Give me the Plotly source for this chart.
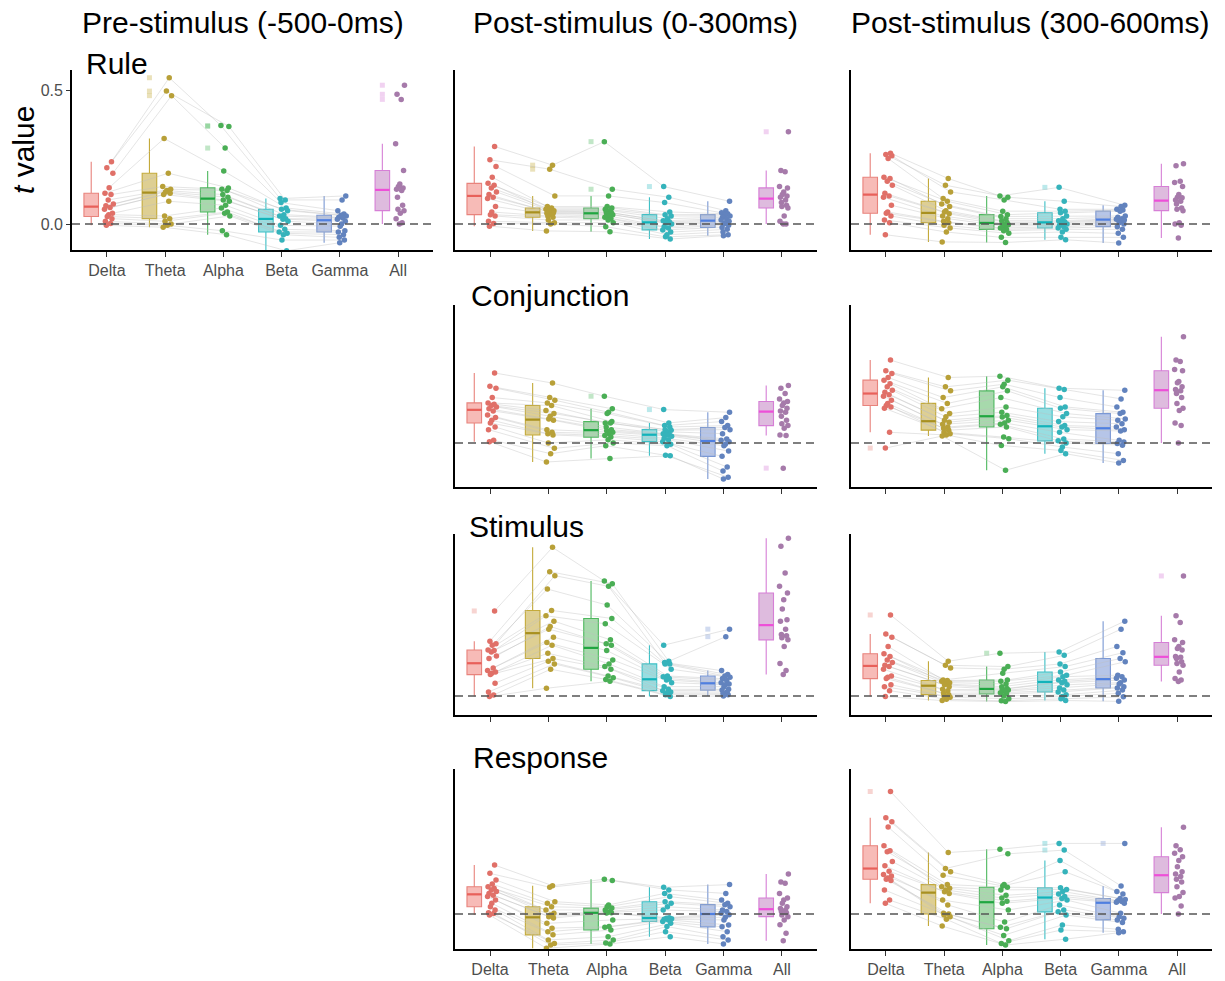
import numpy as np
import plotly.graph_objects as go

CATEGORIES = ["Delta", "Theta", "Alpha", "Beta", "Gamma", "All"]
COLUMN_TITLES = ["Pre-stimulus (-500-0ms)", "Post-stimulus (0-300ms)", "Post-stimulus (300-600ms)"]
ROW_LABELS = ["Rule", "Conjunction", "Stimulus", "Response"]
Y_TICKS = [0.0, 0.5]
Y_TICK_TEXT = ["0.0", "0.5"]

# values per subject (18 subjects), one list per band: Delta, Theta, Alpha, Beta, Gamma, All
rule_pre = [
    [0.233, 0.21, 0.19, 0.136, 0.115, 0.11, 0.09, 0.075, 0.068, 0.062, 0.055, 0.04, 0.035, 0.028, 0.02, 0.01, 0.002, -0.005],
    [0.547, 0.497, 0.48, 0.32, 0.19, 0.14, 0.13, 0.125, 0.12, 0.115, 0.11, 0.085, 0.03, 0.02, 0.01, 0.0, -0.005, -0.012],
    [0.368, 0.365, 0.284, 0.198, 0.135, 0.13, 0.125, 0.11, 0.1, 0.09, 0.085, 0.07, 0.06, 0.045, 0.04, 0.03, -0.025, -0.04],
    [0.095, 0.09, 0.08, 0.06, 0.055, 0.05, 0.035, 0.03, 0.02, 0.018, 0.01, -0.005, -0.02, -0.03, -0.035, -0.04, -0.06, -0.1],
    [0.105, 0.09, 0.05, 0.037, 0.033, 0.03, 0.025, 0.022, 0.018, 0.01, 0.0, -0.008, -0.025, -0.03, -0.04, -0.05, -0.06, -0.07],
    [0.519, 0.485, 0.466, 0.3, 0.2, 0.15, 0.14, 0.135, 0.13, 0.125, 0.1, 0.07, 0.055, 0.05, 0.04, 0.02, 0.005, 0.0],
]
rule_early = [
    [0.29, 0.24, 0.215, 0.175, 0.152, 0.145, 0.135, 0.12, 0.11, 0.1, 0.095, 0.065, 0.045, 0.035, 0.03, 0.01, 0.002, -0.008],
    [0.22, 0.205, 0.105, 0.065, 0.06, 0.055, 0.05, 0.048, 0.045, 0.042, 0.04, 0.035, 0.03, 0.025, 0.015, 0.005, 0.0, -0.026],
    [0.308, 0.13, 0.105, 0.065, 0.06, 0.055, 0.05, 0.045, 0.042, 0.038, 0.035, 0.03, 0.025, 0.02, 0.015, 0.005, -0.01, -0.029],
    [0.14, 0.1, 0.08, 0.045, 0.035, 0.03, 0.02, 0.012, 0.008, 0.004, 0.0, -0.01, -0.015, -0.022, -0.03, -0.04, -0.048, -0.056],
    [0.085, 0.05, 0.042, 0.038, 0.035, 0.03, 0.025, 0.02, 0.015, 0.01, 0.005, 0.0, -0.005, -0.013, -0.02, -0.03, -0.04, -0.044],
    [0.345, 0.2, 0.195, 0.14, 0.135, 0.12, 0.11, 0.105, 0.1, 0.09, 0.08, 0.07, 0.065, 0.06, 0.03, 0.01, 0.0, 0.0],
]
rule_late = [
    [0.265, 0.26, 0.255, 0.245, 0.175, 0.17, 0.16, 0.145, 0.115, 0.105, 0.1, 0.07, 0.045, 0.04, 0.03, 0.015, 0.005, -0.04],
    [0.17, 0.145, 0.12, 0.095, 0.085, 0.075, 0.065, 0.05, 0.045, 0.038, 0.03, 0.02, 0.01, 0.005, -0.005, -0.015, -0.03, -0.067],
    [0.105, 0.1, 0.09, 0.048, 0.035, 0.028, 0.02, 0.012, 0.006, 0.002, -0.003, -0.008, -0.015, -0.02, -0.025, -0.035, -0.05, -0.069],
    [0.137, 0.085, 0.055, 0.048, 0.042, 0.03, 0.02, 0.012, 0.008, 0.004, 0.0, -0.005, -0.01, -0.015, -0.02, -0.03, -0.05, -0.059],
    [0.07, 0.065, 0.055, 0.052, 0.048, 0.03, 0.025, 0.02, 0.018, 0.015, 0.01, 0.005, 0.0, -0.01, -0.02, -0.035, -0.05, -0.071],
    [0.225, 0.218, 0.16, 0.155, 0.14, 0.11, 0.1, 0.098, 0.09, 0.085, 0.075, 0.06, 0.055, 0.05, 0.005, 0.0, -0.005, -0.052],
]
conj_early = [
    [0.262, 0.212, 0.205, 0.17, 0.15, 0.145, 0.14, 0.135, 0.128, 0.12, 0.105, 0.095, 0.085, 0.075, 0.06, 0.05, 0.01, 0.005],
    [0.224, 0.17, 0.16, 0.15, 0.14, 0.122, 0.11, 0.1, 0.09, 0.085, 0.05, 0.04, 0.035, 0.03, 0.0, -0.02, -0.04, -0.071],
    [0.175, 0.128, 0.115, 0.11, 0.08, 0.075, 0.075, 0.06, 0.05, 0.046, 0.04, 0.035, 0.028, 0.022, 0.012, 0.0, -0.01, -0.058],
    [0.125, 0.075, 0.065, 0.06, 0.05, 0.048, 0.042, 0.035, 0.032, 0.03, 0.025, 0.018, 0.012, 0.005, -0.005, -0.01, -0.046, -0.048],
    [0.115, 0.095, 0.08, 0.065, 0.058, 0.05, 0.035, 0.015, 0.01, 0.005, -0.005, -0.01, -0.03, -0.05, -0.09, -0.105, -0.128, -0.135],
    [0.215, 0.205, 0.185, 0.165, 0.155, 0.15, 0.14, 0.13, 0.12, 0.115, 0.1, 0.085, 0.072, 0.065, 0.055, 0.03, 0.028, -0.094],
]
conj_late = [
    [0.31, 0.27, 0.26, 0.245, 0.235, 0.222, 0.21, 0.197, 0.19, 0.18, 0.175, 0.16, 0.148, 0.14, 0.135, 0.13, 0.04, -0.019],
    [0.245, 0.21, 0.195, 0.17, 0.148, 0.128, 0.11, 0.098, 0.085, 0.078, 0.07, 0.06, 0.055, 0.048, 0.04, 0.035, 0.03, 0.026],
    [0.25, 0.235, 0.22, 0.21, 0.195, 0.17, 0.135, 0.115, 0.103, 0.097, 0.085, 0.075, 0.07, 0.06, 0.022, 0.016, -0.009, -0.102],
    [0.205, 0.2, 0.17, 0.135, 0.13, 0.11, 0.098, 0.08, 0.065, 0.06, 0.05, 0.04, 0.015, 0.008, 0.0, -0.015, -0.028, -0.04],
    [0.197, 0.165, 0.135, 0.115, 0.11, 0.09, 0.085, 0.072, 0.06, 0.05, 0.045, 0.01, 0.004, -0.002, -0.008, -0.04, -0.065, -0.075],
    [0.397, 0.31, 0.305, 0.275, 0.27, 0.23, 0.225, 0.21, 0.2, 0.195, 0.185, 0.17, 0.148, 0.13, 0.122, 0.075, 0.065, 0.0],
]
stim_early = [
    [0.318, 0.205, 0.195, 0.19, 0.172, 0.17, 0.165, 0.15, 0.14, 0.105, 0.095, 0.09, 0.085, 0.08, 0.048, 0.015, 0.004, -0.002],
    [0.556, 0.465, 0.45, 0.4, 0.32, 0.3, 0.28, 0.26, 0.25, 0.22, 0.2, 0.19, 0.16, 0.14, 0.13, 0.12, 0.1, 0.029],
    [0.43, 0.42, 0.41, 0.34, 0.29, 0.27, 0.21, 0.195, 0.19, 0.17, 0.135, 0.12, 0.11, 0.1, 0.075, 0.068, 0.062, 0.055],
    [0.19, 0.13, 0.125, 0.12, 0.12, 0.1, 0.075, 0.072, 0.065, 0.06, 0.05, 0.035, 0.025, 0.02, 0.015, 0.01, 0.005, -0.002],
    [0.25, 0.222, 0.095, 0.08, 0.075, 0.07, 0.065, 0.058, 0.05, 0.045, 0.042, 0.035, 0.025, 0.022, 0.015, 0.01, 0.005, 0.0],
    [0.59, 0.56, 0.46, 0.41, 0.385, 0.36, 0.325, 0.285, 0.28, 0.25, 0.23, 0.225, 0.218, 0.21, 0.185, 0.122, 0.095, 0.08],
]
stim_late = [
    [0.303, 0.232, 0.22, 0.185, 0.158, 0.148, 0.135, 0.125, 0.115, 0.11, 0.1, 0.075, 0.07, 0.065, 0.042, 0.035, 0.02, -0.002],
    [0.13, 0.115, 0.105, 0.06, 0.058, 0.055, 0.05, 0.045, 0.042, 0.035, 0.025, 0.02, 0.01, 0.005, 0.0, -0.005, -0.012, -0.017],
    [0.16, 0.11, 0.1, 0.085, 0.06, 0.055, 0.045, 0.035, 0.028, 0.025, 0.022, 0.018, 0.012, 0.008, 0.0, -0.01, -0.018, -0.021],
    [0.165, 0.152, 0.12, 0.11, 0.09, 0.078, 0.072, 0.06, 0.055, 0.05, 0.042, 0.03, 0.022, 0.015, 0.005, -0.002, -0.01, -0.017],
    [0.28, 0.25, 0.185, 0.162, 0.14, 0.128, 0.078, 0.072, 0.066, 0.06, 0.05, 0.045, 0.035, 0.03, 0.022, 0.01, -0.003, -0.02],
    [0.449, 0.3, 0.275, 0.21, 0.2, 0.185, 0.178, 0.172, 0.148, 0.145, 0.14, 0.128, 0.122, 0.115, 0.09, 0.065, 0.06, 0.054],
]
resp_early = [
    [0.183, 0.152, 0.127, 0.112, 0.102, 0.096, 0.09, 0.084, 0.077, 0.07, 0.065, 0.052, 0.04, 0.027, 0.015, 0.005, 0.002, -0.004],
    [0.106, 0.1, 0.046, 0.04, 0.027, 0.015, 0.003, -0.004, -0.01, -0.015, -0.035, -0.053, -0.066, -0.078, -0.097, -0.11, -0.116, -0.128],
    [0.13, 0.125, 0.034, 0.027, 0.022, 0.015, 0.01, 0.006, 0.005, 0.004, -0.022, -0.047, -0.05, -0.06, -0.085, -0.097, -0.108, -0.112],
    [0.1, 0.09, 0.077, 0.065, 0.046, 0.04, 0.027, 0.015, -0.014, -0.016, -0.018, -0.02, -0.022, -0.028, -0.035, -0.047, -0.066, -0.085],
    [0.11, 0.077, 0.052, 0.04, 0.035, 0.027, 0.015, 0.009, 0.003, -0.003, -0.012, -0.022, -0.041, -0.048, -0.066, -0.085, -0.097, -0.112],
    [0.15, 0.12, 0.115, 0.077, 0.06, 0.052, 0.04, 0.027, 0.021, 0.015, 0.009, 0.004, -0.004, -0.01, -0.022, -0.04, -0.072, -0.1],
]
resp_late = [
    [0.458, 0.36, 0.345, 0.325, 0.255, 0.237, 0.233, 0.196, 0.18, 0.16, 0.148, 0.142, 0.135, 0.13, 0.125, 0.09, 0.052, 0.04],
    [0.23, 0.17, 0.158, 0.145, 0.11, 0.102, 0.096, 0.09, 0.083, 0.077, 0.052, 0.034, 0.003, 0.0, -0.004, -0.01, -0.02, -0.045],
    [0.242, 0.225, 0.11, 0.105, 0.1, 0.09, 0.07, 0.06, 0.048, 0.04, 0.015, -0.03, -0.05, -0.055, -0.08, -0.1, -0.11, -0.116],
    [0.264, 0.239, 0.2, 0.158, 0.098, 0.092, 0.084, 0.075, 0.065, 0.058, 0.052, 0.034, 0.015, 0.008, -0.004, -0.041, -0.06, -0.094],
    [0.264, 0.105, 0.084, 0.075, 0.058, 0.054, 0.05, 0.047, 0.044, 0.04, 0.003, -0.01, -0.016, -0.022, -0.032, -0.057, -0.066, -0.07],
    [0.324, 0.255, 0.24, 0.227, 0.214, 0.2, 0.177, 0.158, 0.15, 0.14, 0.13, 0.12, 0.102, 0.08, 0.065, 0.06, 0.03, 0.0],
]

# ---------------- styling ----------------
W, H = 1225, 981
FONT = "Liberation Sans, Arial, Helvetica, sans-serif"
LINE_COL = ["#E8837C", "#C4AA3A", "#4DB85E", "#3CC0C6", "#7A98D4", "#D67FD6"]
FILL_COL = ["rgba(240,120,112,0.5)", "rgba(190,160,40,0.5)", "rgba(80,180,90,0.5)",
            "rgba(50,190,195,0.5)", "rgba(110,140,210,0.5)", "rgba(190,120,190,0.5)"]
MED_COL = ["#E8605A", "#A89020", "#1FA640", "#12B3BA", "#4F7FE0", "#EE4FD8"]
PT_COL = ["#E07068", "#B8A038", "#4AAE55", "#35B3BB", "#6283BE", "#A67AAA"]

COL_X = [(72, 433), (455, 817), (851, 1212)]
ROW_Y = [(70, 250), (305, 487), (534, 715), (769, 949)]
ZERO_Y = [224, 443, 696, 914]
PX_PER_UNIT = 267.4

panels = [
    (0, 0, rule_pre), (0, 1, rule_early), (0, 2, rule_late),
    (1, 1, conj_early), (1, 2, conj_late),
    (2, 1, stim_early), (2, 2, stim_late),
    (3, 1, resp_early), (3, 2, resp_late),
]

JIT = [0.6, -0.4, 0.9, 0.1, -0.8, 0.5, -0.1, 1.0, -0.6, 0.3, -0.9, 0.8, 0.0, -0.3, 0.7, -0.7, 0.4, -0.5]
BOX_OFF = -0.27
BOX_W = 0.25

fig = go.Figure()
layout = dict(
    width=W, height=H, margin=dict(l=0, r=0, t=0, b=0),
    paper_bgcolor="white", plot_bgcolor="white", showlegend=False,
    font=dict(family=FONT),
)
shapes = []
annotations = []

for idx, (r, c, data) in enumerate(panels):
    n = idx + 1
    xa = "x" if n == 1 else f"x{n}"
    ya = "y" if n == 1 else f"y{n}"
    xkey = "xaxis" if n == 1 else f"xaxis{n}"
    ykey = "yaxis" if n == 1 else f"yaxis{n}"

    x0p, x1p = COL_X[c]
    y0p, y1p = ROW_Y[r]
    ymin = (ZERO_Y[r] - y1p) / PX_PER_UNIT
    ymax = (ZERO_Y[r] - y0p) / PX_PER_UNIT

    show_xlab = (r == 0 and c == 0) or r == 3
    layout[xkey] = dict(
        domain=[x0p / W, x1p / W], anchor=ya, range=[0.4, 6.6],
        tickmode="array", tickvals=list(range(1, 7)), ticktext=CATEGORIES,
        showticklabels=show_xlab, ticks="outside", ticklen=5, tickwidth=1.2, tickcolor="#333333",
        tickfont=dict(size=16, color="#4D4D4D", family=FONT),
        showline=True, linecolor="black", linewidth=1.8, showgrid=False, zeroline=False,
    )
    ydict = dict(
        domain=[1 - y1p / H, 1 - y0p / H], anchor=xa, range=[ymin, ymax],
        showline=True, linecolor="black", linewidth=1.8, showgrid=False, zeroline=False,
    )
    if r == 0 and c == 0:
        ydict.update(tickmode="array", tickvals=Y_TICKS, ticktext=Y_TICK_TEXT, ticks="outside",
                     ticklen=4, tickwidth=1.2, tickcolor="#333333",
                     tickfont=dict(size=16, color="#4D4D4D", family=FONT))
    else:
        ydict.update(showticklabels=False, ticks="")
    layout[ykey] = ydict

    # jittered positions of points
    xs = []
    for ci in range(6):
        xs.append([ci + 1 + 0.03 + 0.08 * JIT[(k + 5 * ci) % len(JIT)] for k in range(len(data[ci]))])

    # subject lines across Delta..Gamma
    lx, ly = [], []
    for k in range(len(data[0])):
        for ci in range(5):
            lx.append(xs[ci][k])
            ly.append(data[ci][k])
        lx.append(None)
        ly.append(None)
    fig.add_trace(go.Scatter(x=lx, y=ly, mode="lines", xaxis=xa, yaxis=ya,
                             line=dict(color="rgba(190,190,190,0.5)", width=0.8),
                             hoverinfo="skip"))

    for ci in range(6):
        vals = data[ci]
        pos = ci + 1 + BOX_OFF
        fig.add_trace(go.Box(
            x=[pos] * len(vals), y=vals, xaxis=xa, yaxis=ya, width=BOX_W,
            boxpoints="outliers", pointpos=0, jitter=0, whiskerwidth=0,
            quartilemethod="inclusive",
            line=dict(color=LINE_COL[ci], width=1.1), fillcolor=FILL_COL[ci],
            marker=dict(symbol="square", size=5, color=LINE_COL[ci], opacity=0.35,
                        line=dict(width=0)),
            hoverinfo="skip",
        ))
        med = float(np.median(vals))
        fig.add_trace(go.Scatter(
            x=[pos - BOX_W / 2, pos + BOX_W / 2], y=[med, med], mode="lines",
            xaxis=xa, yaxis=ya, line=dict(color=MED_COL[ci], width=2.2), hoverinfo="skip"))
        fig.add_trace(go.Scatter(
            x=xs[ci], y=vals, mode="markers", xaxis=xa, yaxis=ya,
            marker=dict(size=5.5, color=PT_COL[ci], line=dict(width=0)), hoverinfo="skip"))

    shapes.append(dict(type="line", xref=f"{xa} domain", yref=ya, x0=0, x1=1, y0=0, y1=0,
                       line=dict(color="#555555", width=1.7, dash="8px,5px"), layer="above"))

# column titles
for c, title in enumerate(COLUMN_TITLES):
    cx = [243, 635, 1030][c]
    annotations.append(dict(text=title, x=cx / W, y=1 - 23 / H, xref="paper", yref="paper",
                            xanchor="center", yanchor="middle", showarrow=False,
                            font=dict(size=30, color="black", family=FONT)))

# row labels
row_pos = [(84, 64), (469, 296), (467, 526), (471, 757)]
for (px, py), lab in zip(row_pos, ROW_LABELS):
    annotations.append(dict(text=lab, x=px / W, y=1 - py / H, xref="paper", yref="paper",
                            xanchor="left", yanchor="middle", showarrow=False,
                            font=dict(size=30, color="black", family=FONT)))

# y axis title
annotations.append(dict(text="<i>t</i> value", x=23 / W, y=1 - 150 / H, xref="paper", yref="paper",
                        xanchor="center", yanchor="middle", textangle=-90, showarrow=False,
                        font=dict(size=30, color="black", family=FONT)))

layout["shapes"] = shapes
layout["annotations"] = annotations
fig.update_layout(**layout)
fig.write_html("out.html")
